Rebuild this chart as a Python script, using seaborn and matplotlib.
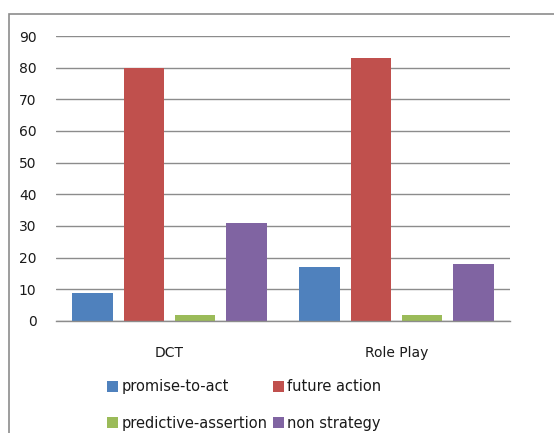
import matplotlib
matplotlib.use("Agg")
import matplotlib.pyplot as plt
import seaborn as sns
import pandas as pd
from matplotlib.patches import Patch, Rectangle

categories = ["DCT", "Role Play"]
series = ["promise-to-act", "future action", "predictive-assertion", "non strategy"]
promise_to_act = [9, 17]
future_action = [80, 83]
predictive_assertion = [2, 2]
non_strategy = [31, 18]
yticks = [0, 10, 20, 30, 40, 50, 60, 70, 80, 90]
colors = ["#4F81BD", "#C0504D", "#9BBB59", "#8064A2"]

values = [promise_to_act, future_action, predictive_assertion, non_strategy]
rows = []
for s, vals in zip(series, values):
    for c, v in zip(categories, vals):
        rows.append({"category": c, "series": s, "value": v})
df = pd.DataFrame(rows)

sns.set_style("white")
plt.rcParams['font.family'] = ['DejaVu Sans']

fig = plt.figure(figsize=(5.54, 4.33), dpi=100)
ax = fig.add_axes([56/554, 1-321/433, (510-56)/554, (321-36)/433])

sns.barplot(data=df, x="category", y="value", hue="series", hue_order=series,
            palette=colors, width=0.9, gap=0.2, ax=ax, legend=False,
            saturation=1, edgecolor="none")

ax.set_ylim(0, 90)
ax.set_xlim(-0.5, 1.5)
ax.set_yticks(yticks)
ax.set_yticklabels([str(t) for t in yticks])
ax.yaxis.grid(True, color="#8C8C8C", linewidth=1.0)
ax.set_axisbelow(True)
for s in ["top", "right", "left"]:
    ax.spines[s].set_visible(False)
ax.spines["bottom"].set_color("#8C8C8C")
ax.spines["bottom"].set_linewidth(1.0)
ax.set_xlabel("")
ax.set_ylabel("")
ax.tick_params(axis="x", length=0, pad=18, labelsize=10, colors="#1a1a1a")
ax.tick_params(axis="y", length=0, pad=14, labelsize=10, colors="#1a1a1a")

# outer frame
fig.patches.append(Rectangle((9/554, -0.1), 1.2, 1-14/433+0.1, transform=fig.transFigure,
                             fill=False, edgecolor="#8C8C8C", linewidth=1.2))

order = [0, 2, 1, 3]
handles = [Patch(facecolor=colors[i], edgecolor="none") for i in order]
labels = [series[i] for i in order]
leg = fig.legend(handles, labels, ncol=2, loc="center left",
           bbox_to_anchor=(100/554, 1-405/433), frameon=False,
           fontsize=10.5, handlelength=0.75, handleheight=0.75, handletextpad=0.2,
           columnspacing=0.4, labelspacing=1.45, borderpad=0)
for t in leg.get_texts():
    t.set_color("#1a1a1a")

fig.savefig("out.png", dpi=100)
